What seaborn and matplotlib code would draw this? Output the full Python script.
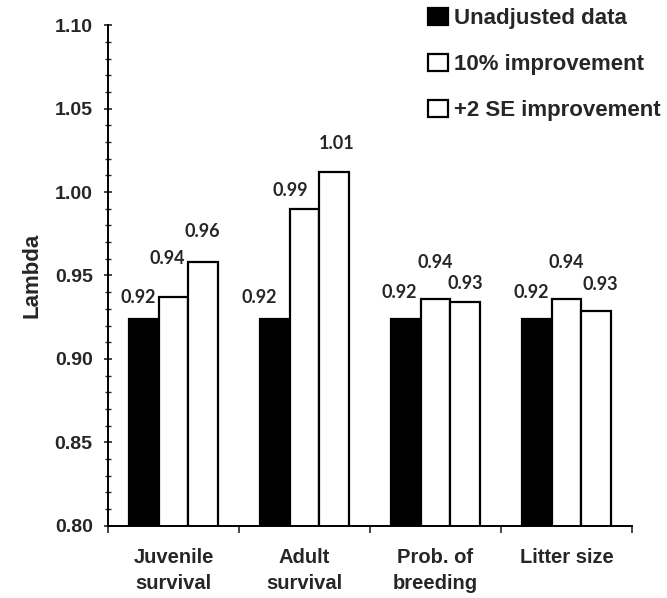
import numpy as np
import pandas as pd
import matplotlib
matplotlib.use("Agg")
import matplotlib.pyplot as plt
from matplotlib.ticker import MultipleLocator, FixedLocator, NullFormatter
import seaborn as sns

# --- data ---
categories = ["Juvenile\nsurvival", "Adult\nsurvival", "Prob. of\nbreeding", "Litter size"]
series = ["Unadjusted data", "10% improvement", "+2 SE improvement"]
unadjusted = [0.924, 0.924, 0.924, 0.924]
ten_pct = [0.937, 0.990, 0.936, 0.936]
plus_2se = [0.958, 1.012, 0.934, 0.929]

df = pd.DataFrame({
    "category": categories * 3,
    "series": np.repeat(series, len(categories)),
    "lam": unadjusted + ten_pct + plus_2se,
})

sns.set_style("ticks")
plt.rcParams["font.family"] = ["Liberation Sans", "DejaVu Sans"]

fig = plt.figure(figsize=(6.67, 5.98), dpi=100)
ax = fig.add_axes([0.1619, 0.1209, 0.7856, 0.8368])

sns.barplot(data=df, x="category", y="lam", hue="series", order=categories,
            hue_order=series, palette=["black", "white", "white"],
            width=0.675, edgecolor="black", linewidth=1.6, ax=ax, saturation=1)

# value labels (offsets in pixels, hand placed like the original)
offsets = [
    [(-6, 21), (-16, 21), (-7, 26), (-6, 26)],
    [(-6, 39), (-14, 18), (0, 36), (0, 36)],
    [(-1, 31), (3, 29), (0, 19), (4, 26)],
]
for k, cont in enumerate(ax.containers):
    for j, bar in enumerate(cont):
        h = bar.get_height()
        xc = bar.get_x() + bar.get_width() / 2
        ax.annotate(f"{h:.2f}", xy=(xc, h), xytext=offsets[k][j],
                    textcoords="offset pixels", ha="center", va="center",
                    fontsize=13, fontweight="bold", family="Lato")

# axes
ax.set_ylim(0.80, 1.10)
ax.set_xlim(-0.5, 3.5)
ax.yaxis.set_major_locator(MultipleLocator(0.05))
ax.yaxis.set_minor_locator(MultipleLocator(0.01))
ax.set_yticklabels([f"{t:.2f}" for t in ax.get_yticks()])
ax.tick_params(axis="y", which="major", direction="inout", length=6, width=1.2,
               labelsize=14, pad=8)
ax.tick_params(axis="y", which="minor", direction="inout", length=4, width=1.0)

ax.xaxis.set_major_locator(FixedLocator([-0.5, 0.5, 1.5, 2.5, 3.5]))
ax.xaxis.set_major_formatter(NullFormatter())
ax.xaxis.set_minor_locator(FixedLocator(range(len(categories))))
ax.set_xticklabels(categories, minor=True)
ax.tick_params(axis="x", which="major", direction="out", length=5, width=1.2)
ax.tick_params(axis="x", which="minor", length=0, labelsize=14.5, pad=16)
for lbl in ax.get_xticklabels(minor=True):
    lbl.set_fontweight("bold")
    lbl.set_linespacing(1.5)
for lbl in ax.get_yticklabels():
    lbl.set_fontweight("bold")

ax.set_xlabel("")
ax.set_ylabel("Lambda", fontsize=16, fontweight="bold", labelpad=9)
sns.despine(ax=ax)
for s in ["left", "bottom"]:
    ax.spines[s].set_linewidth(1.4)
    ax.spines[s].set_color("black")

# legend
handles, labels = ax.get_legend_handles_labels()
ax.get_legend().remove()
fig.legend(handles, labels, loc="upper left", bbox_to_anchor=(0.6417, 0.986),
           frameon=False, prop={"weight": "bold", "size": 16},
           handlelength=0.9, handleheight=0.75, handletextpad=0.25,
           labelspacing=1.12, borderpad=0, borderaxespad=0)

fig.savefig("out.png", dpi=100, facecolor="white")
